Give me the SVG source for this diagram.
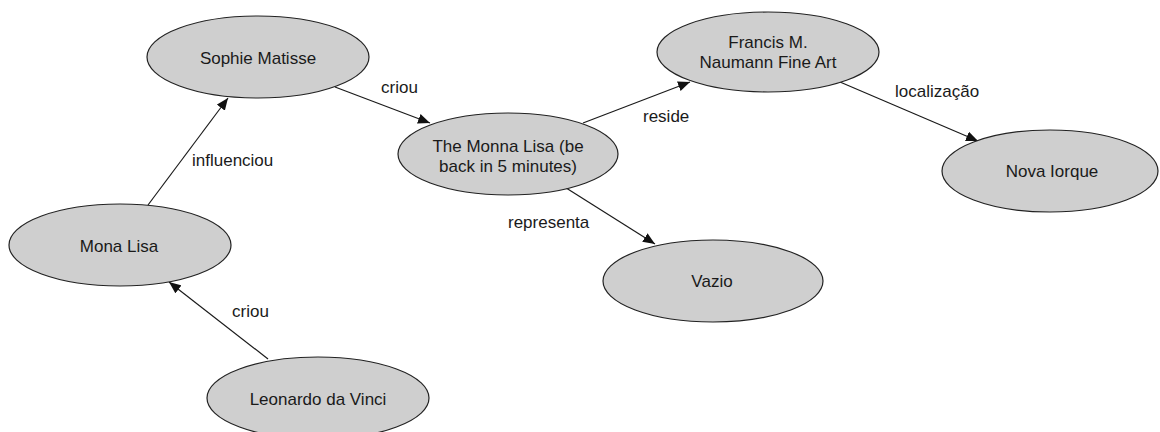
<svg xmlns="http://www.w3.org/2000/svg" width="1160" height="432" viewBox="0 0 1160 432">
<defs>
<style>
.node ellipse{fill:#cfcfcf;stroke:#222;stroke-width:1.2}
.node text{font-family:"Liberation Sans",Arial,sans-serif;font-size:17px;fill:#1a1a1a;text-anchor:middle}
.edge line{stroke:#1a1a1a;stroke-width:1.2;marker-end:url(#arr)}
.lbl{font-family:"Liberation Sans",Arial,sans-serif;font-size:17px;fill:#1a1a1a}
</style>
<marker id="arr" viewBox="0 0 12 10" refX="12" refY="5" markerWidth="12" markerHeight="10" markerUnits="userSpaceOnUse" orient="auto">
<path d="M0,0 L12,5 L0,10 Z" fill="#111"/>
</marker>
</defs>
<rect width="1160" height="432" fill="#fff"/>
<g id="connectors">
<g class="edge"><line x1="335" y1="87" x2="430" y2="123"/></g>
<g class="edge"><line x1="148" y1="205" x2="228" y2="98"/></g>
<g class="edge"><line x1="268" y1="359" x2="169" y2="282"/></g>
<g class="edge"><line x1="583" y1="123" x2="690" y2="82"/></g>
<g class="edge"><line x1="563" y1="186" x2="655" y2="244"/></g>
<g class="edge"><line x1="840" y1="82" x2="978" y2="141"/></g>
<text class="lbl" x="381" y="93">criou</text>
<text class="lbl" x="192" y="166">influenciou</text>
<text class="lbl" x="232" y="317">criou</text>
<text class="lbl" x="643" y="122">reside</text>
<text class="lbl" x="508" y="228">representa</text>
<text class="lbl" x="895" y="97">localização</text>
</g>
<g id="sophie" class="node"><ellipse cx="258" cy="57" rx="111" ry="41"/><text x="258" y="64">Sophie Matisse</text></g>
<g id="monna" class="node"><ellipse cx="508" cy="154" rx="110" ry="41"/><text x="508" y="152">The Monna Lisa (be</text><text x="508" y="172">back in 5 minutes)</text></g>
<g id="francis" class="node"><ellipse cx="768" cy="52" rx="111" ry="40"/><text x="768" y="48">Francis M.</text><text x="768" y="68">Naumann Fine Art</text></g>
<g id="nova" class="node"><ellipse cx="1050" cy="171" rx="108" ry="41"/><text x="1052" y="177">Nova Iorque</text></g>
<g id="monalisa" class="node"><ellipse cx="120" cy="245" rx="111" ry="41"/><text x="119" y="252">Mona Lisa</text></g>
<g id="vazio" class="node"><ellipse cx="713" cy="281" rx="110" ry="41"/><text x="712" y="287">Vazio</text></g>
<g id="leonardo" class="node"><ellipse cx="318" cy="398" rx="111" ry="41"/><text x="318" y="405">Leonardo da Vinci</text></g>
</svg>
